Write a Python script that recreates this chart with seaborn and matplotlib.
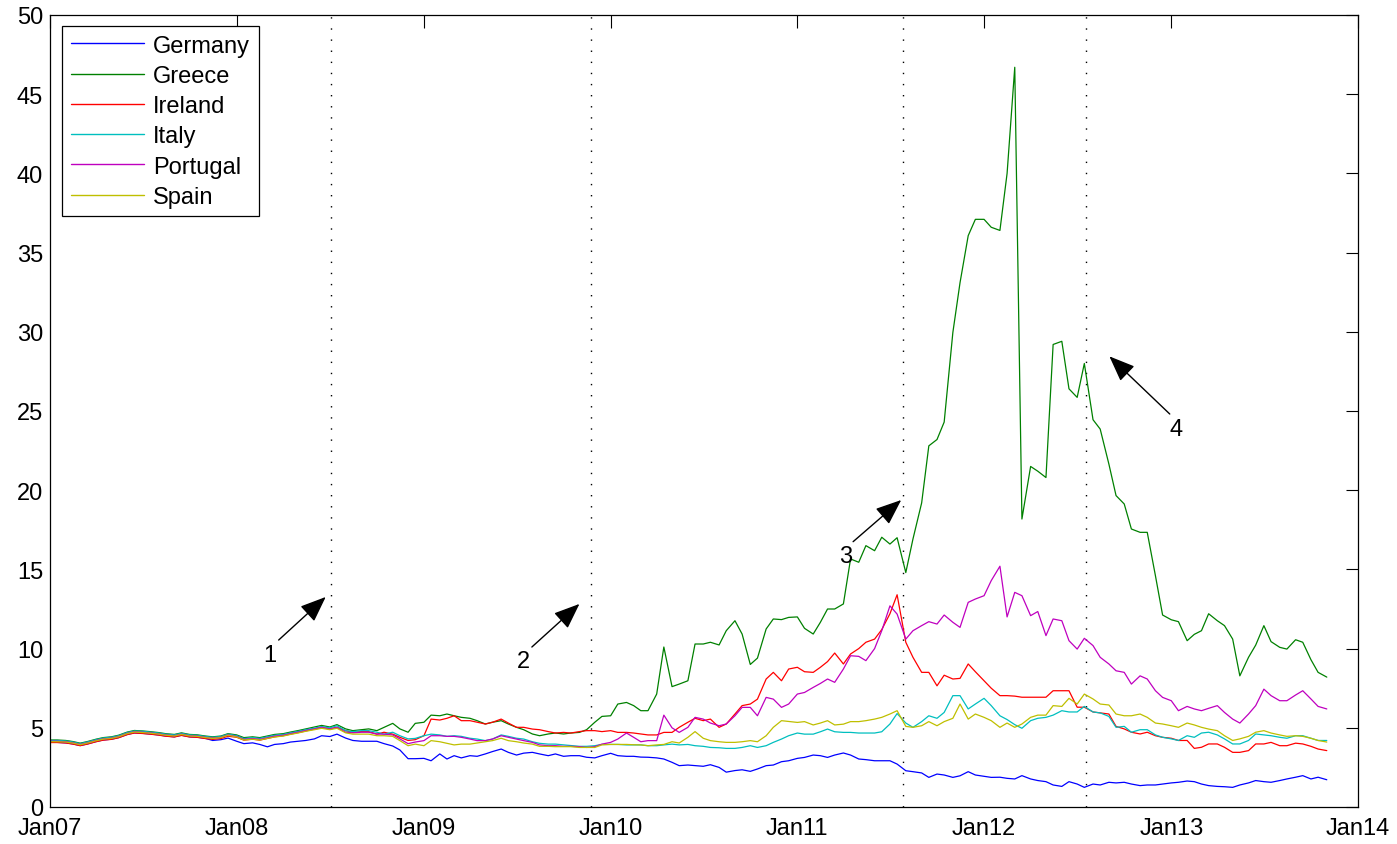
import pandas as pd
import seaborn as sns
import matplotlib.pyplot as plt
import matplotlib.dates as mdates

# semi-monthly observations, Jan 2007 - Nov 2013
dates = pd.date_range('2007-01-01', periods=165, freq='SMS')

germany = [
    4.08, 4.08, 4.05, 3.98, 3.88, 3.98, 4.13, 4.23, 4.28, 4.38, 4.58, 4.68, 4.65, 4.61, 4.55, 4.48, 4.43, 4.53, 4.43, 4.41, 4.33, 4.2, 4.25, 4.35,
    4.15, 4.0, 4.05, 3.95, 3.8, 3.95, 4.0, 4.1, 4.15, 4.2, 4.3, 4.5, 4.45, 4.6, 4.35, 4.2, 4.15, 4.15, 4.15, 4.0, 3.85, 3.6, 3.05, 3.05,
    3.07, 2.92, 3.35, 3.03, 3.24, 3.1, 3.24, 3.2, 3.35, 3.5, 3.66, 3.45, 3.28, 3.4, 3.45, 3.35, 3.24, 3.35, 3.2, 3.24, 3.24, 3.14, 3.1, 3.24,
    3.39, 3.24, 3.2, 3.2, 3.15, 3.14, 3.1, 3.03, 2.82, 2.61, 2.65, 2.61, 2.57, 2.67, 2.5, 2.2, 2.3, 2.35, 2.25, 2.4, 2.61, 2.65, 2.86, 2.92,
    3.07, 3.13, 3.28, 3.24, 3.13, 3.28, 3.41, 3.28, 3.03, 2.99, 2.92, 2.92, 2.92, 2.71, 2.29, 2.23, 2.15, 1.87, 2.08, 2.02, 1.87, 1.97, 2.23, 2.02,
    1.94, 1.87, 1.88, 1.81, 1.77, 1.98, 1.77, 1.67, 1.6, 1.39, 1.3, 1.6, 1.45, 1.24, 1.45, 1.39, 1.56, 1.52, 1.56, 1.45, 1.35, 1.39, 1.39, 1.45,
    1.52, 1.56, 1.64, 1.6, 1.45, 1.35, 1.3, 1.28, 1.24, 1.39, 1.52, 1.67, 1.6, 1.56, 1.67, 1.77, 1.88, 1.98, 1.77, 1.88, 1.72]

greece = [
    4.23, 4.23, 4.2, 4.13, 4.03, 4.13, 4.28, 4.38, 4.43, 4.53, 4.73, 4.83, 4.8, 4.76, 4.7, 4.63, 4.58, 4.68, 4.58, 4.56, 4.48, 4.43, 4.48, 4.63,
    4.55, 4.38, 4.43, 4.38, 4.48, 4.58, 4.63, 4.73, 4.83, 4.93, 5.05, 5.15, 5.05, 5.2, 4.93, 4.82, 4.88, 4.93, 4.82, 5.03, 5.28, 4.93, 4.72, 5.28,
    5.35, 5.8, 5.76, 5.87, 5.76, 5.66, 5.6, 5.45, 5.24, 5.35, 5.45, 5.24, 5.03, 4.88, 4.61, 4.5, 4.61, 4.67, 4.61, 4.67, 4.71, 4.88, 5.35, 5.72,
    5.76, 6.5, 6.6, 6.4, 6.08, 6.08, 7.13, 10.1, 7.6, 7.76, 7.97, 10.29, 10.29, 10.4, 10.23, 11.13, 11.76, 10.92, 9.0, 9.4, 11.24, 11.87, 11.83, 11.97,
    12.0, 11.28, 10.92, 11.66, 12.5, 12.5, 12.82, 15.66, 15.45, 16.5, 16.18, 17.03, 16.6, 17.0, 14.8, 16.92, 19.2, 22.8, 23.2, 24.3, 29.96, 33.1, 36.07, 37.1,
    37.1, 36.6, 36.4, 40.0, 46.7, 18.18, 21.5, 21.2, 20.8, 29.2, 29.4, 26.4, 25.86, 28.0, 24.45, 23.86, 21.65, 19.66, 19.13, 17.55, 17.34, 17.34, 14.6, 12.12,
    11.82, 11.7, 10.5, 10.9, 11.13, 12.2, 11.76, 11.45, 10.6, 8.28, 9.45, 10.22, 11.45, 10.44, 10.08, 9.97, 10.56, 10.4, 9.3, 8.5, 8.2]

ireland = [
    4.07, 4.07, 4.04, 3.97, 3.87, 3.97, 4.12, 4.22, 4.27, 4.37, 4.57, 4.67, 4.64, 4.6, 4.54, 4.47, 4.42, 4.52, 4.42, 4.4, 4.32, 4.27, 4.32, 4.47,
    4.4, 4.22, 4.28, 4.22, 4.33, 4.43, 4.5, 4.6, 4.7, 4.8, 4.92, 5.0, 4.93, 5.03, 4.82, 4.72, 4.76, 4.76, 4.6, 4.72, 4.6, 4.4, 4.2, 4.25,
    4.5, 5.55, 5.49, 5.6, 5.76, 5.45, 5.45, 5.35, 5.24, 5.35, 5.55, 5.3, 5.03, 5.03, 4.92, 4.88, 4.76, 4.67, 4.71, 4.67, 4.76, 4.82, 4.82, 4.76,
    4.82, 4.71, 4.71, 4.67, 4.61, 4.55, 4.55, 4.71, 4.71, 5.03, 5.35, 5.6, 5.45, 5.55, 5.03, 5.24, 5.87, 6.4, 6.5, 6.81, 8.08, 8.5, 7.97, 8.71,
    8.82, 8.54, 8.5, 8.82, 9.18, 9.72, 9.03, 9.66, 10.0, 10.4, 10.6, 11.2, 12.2, 13.4, 10.4, 9.45, 8.5, 8.5, 7.65, 8.32, 8.08, 8.12, 9.03, 8.54,
    7.97, 7.5, 7.03, 7.03, 7.0, 6.93, 6.93, 6.93, 6.93, 7.34, 7.34, 7.34, 6.3, 6.3, 6.0, 5.94, 5.87, 5.09, 4.93, 4.72, 4.61, 4.72, 4.5, 4.4,
    4.34, 4.2, 4.2, 3.7, 3.77, 3.98, 3.98, 3.77, 3.45, 3.45, 3.56, 3.98, 3.98, 4.08, 3.87, 3.87, 4.03, 3.98, 3.83, 3.66, 3.56]

italy = [
    4.2, 4.2, 4.17, 4.1, 4.0, 4.1, 4.25, 4.35, 4.4, 4.5, 4.7, 4.8, 4.78, 4.73, 4.67, 4.6, 4.55, 4.65, 4.55, 4.53, 4.45, 4.4, 4.45, 4.6,
    4.5, 4.32, 4.38, 4.33, 4.43, 4.53, 4.58, 4.68, 4.78, 4.88, 4.98, 5.08, 5.0, 5.13, 4.82, 4.76, 4.82, 4.82, 4.72, 4.6, 4.72, 4.5, 4.3, 4.33,
    4.5, 4.6, 4.55, 4.46, 4.5, 4.46, 4.34, 4.29, 4.19, 4.29, 4.55, 4.46, 4.34, 4.29, 4.12, 4.02, 3.97, 3.97, 3.92, 3.87, 3.83, 3.83, 3.87, 3.95,
    3.95, 3.95, 3.92, 3.92, 3.92, 3.87, 3.87, 3.92, 3.97, 3.92, 3.95, 3.87, 3.83, 3.76, 3.74, 3.7, 3.7, 3.76, 3.87, 3.76, 3.87, 4.08, 4.29, 4.5,
    4.67, 4.6, 4.6, 4.75, 4.92, 4.75, 4.71, 4.71, 4.67, 4.67, 4.67, 4.75, 5.24, 5.9, 5.3, 5.03, 5.39, 5.76, 5.6, 5.97, 7.03, 7.03, 6.19, 6.5,
    6.86, 6.4, 5.76, 5.52, 5.2, 4.97, 5.45, 5.6, 5.66, 5.8, 6.08, 6.0, 6.0, 6.35, 6.0, 5.94, 5.72, 5.03, 5.09, 4.72, 4.88, 4.88, 4.55, 4.4,
    4.3, 4.2, 4.5, 4.4, 4.67, 4.72, 4.55, 4.3, 3.98, 3.98, 4.2, 4.61, 4.55, 4.5, 4.4, 4.34, 4.5, 4.5, 4.34, 4.2, 4.2]

portugal = [
    4.15, 4.15, 4.12, 4.05, 3.95, 4.05, 4.2, 4.3, 4.35, 4.45, 4.65, 4.75, 4.72, 4.68, 4.62, 4.55, 4.5, 4.6, 4.5, 4.48, 4.4, 4.35, 4.4, 4.55,
    4.45, 4.27, 4.32, 4.27, 4.37, 4.47, 4.53, 4.63, 4.73, 4.83, 4.93, 5.03, 4.93, 5.03, 4.72, 4.68, 4.72, 4.72, 4.6, 4.6, 4.55, 4.3, 4.0, 4.1,
    4.19, 4.5, 4.5, 4.46, 4.46, 4.4, 4.29, 4.19, 4.19, 4.29, 4.5, 4.4, 4.29, 4.19, 4.08, 3.92, 3.87, 3.87, 3.83, 3.83, 3.81, 3.76, 3.81, 3.97,
    4.08, 4.29, 4.67, 4.4, 4.12, 4.19, 4.19, 5.8, 5.0, 4.71, 5.03, 5.66, 5.55, 5.3, 5.13, 5.24, 5.76, 6.29, 6.29, 5.76, 6.92, 6.81, 6.29, 6.5,
    7.13, 7.23, 7.55, 7.8, 8.08, 7.87, 8.71, 9.55, 9.51, 9.24, 10.0, 11.13, 12.7, 12.18, 10.6, 11.13, 11.45, 11.7, 11.55, 12.12, 11.66, 11.34, 12.92, 13.13,
    13.34, 14.29, 15.2, 12.0, 13.55, 13.34, 12.08, 12.34, 10.82, 11.87, 11.76, 10.5, 9.97, 10.65, 10.19, 9.45, 9.03, 8.6, 8.5, 7.76, 8.28, 8.08, 7.34, 6.92,
    6.71, 6.08, 6.35, 6.19, 6.08, 6.23, 6.4, 5.97, 5.55, 5.3, 5.87, 6.4, 7.44, 7.03, 6.71, 6.71, 7.07, 7.34, 6.82, 6.35, 6.19]

spain = [
    4.12, 4.12, 4.1, 4.03, 3.93, 4.03, 4.18, 4.28, 4.33, 4.43, 4.63, 4.73, 4.7, 4.66, 4.6, 4.53, 4.48, 4.58, 4.48, 4.46, 4.38, 4.33, 4.38, 4.53,
    4.42, 4.23, 4.28, 4.23, 4.33, 4.42, 4.48, 4.58, 4.68, 4.78, 4.88, 4.97, 4.88, 4.97, 4.68, 4.6, 4.6, 4.6, 4.5, 4.5, 4.46, 4.19, 3.87, 3.97,
    3.87, 4.19, 4.12, 4.02, 3.92, 3.97, 3.97, 4.04, 4.12, 4.19, 4.34, 4.19, 4.12, 4.04, 3.97, 3.83, 3.83, 3.81, 3.81, 3.81, 3.76, 3.76, 3.76, 3.92,
    3.95, 3.95, 3.95, 3.93, 3.92, 3.87, 3.92, 3.95, 4.12, 4.04, 4.4, 4.76, 4.34, 4.19, 4.12, 4.08, 4.08, 4.12, 4.19, 4.12, 4.5, 5.03, 5.45, 5.4,
    5.34, 5.39, 5.18, 5.3, 5.45, 5.18, 5.23, 5.39, 5.39, 5.45, 5.55, 5.66, 5.87, 6.08, 5.09, 5.03, 5.13, 5.39, 5.13, 5.39, 5.6, 6.5, 5.55, 5.87,
    5.66, 5.45, 5.03, 5.3, 5.03, 5.24, 5.66, 5.8, 5.8, 6.4, 6.35, 6.86, 6.5, 7.13, 6.82, 6.5, 6.44, 5.87, 5.76, 5.76, 5.87, 5.66, 5.3, 5.24,
    5.13, 5.03, 5.3, 5.18, 5.03, 4.92, 4.82, 4.5, 4.2, 4.3, 4.46, 4.72, 4.82, 4.67, 4.55, 4.46, 4.5, 4.46, 4.34, 4.2, 4.1]

countries = ['Germany', 'Greece', 'Ireland', 'Italy', 'Portugal', 'Spain']
colors = ['#0000ff', '#008000', '#ff0000', '#00bfbf', '#bf00bf', '#bfbf00']
event_dates = ['2008-07-03', '2009-11-23', '2011-07-26', '2012-07-18']
event_labels = ['1', '2', '3', '4']

df = pd.DataFrame({'Date': dates, 'Germany': germany, 'Greece': greece, 'Ireland': ireland,
                   'Italy': italy, 'Portugal': portugal, 'Spain': spain})
long = df.melt(id_vars='Date', var_name='Country', value_name='Yield')

sns.set_style('white')
plt.rcParams['font.family'] = ['Liberation Sans', 'DejaVu Sans']
plt.rcParams['text.color'] = 'k'

fig = plt.figure(figsize=(13.97, 8.45), dpi=100)
ax = fig.add_axes([50 / 1397, 1 - 808 / 845, 1308 / 1397, 792 / 845])

sns.lineplot(data=long, x='Date', y='Yield', hue='Country', hue_order=countries,
             palette=dict(zip(countries, colors)), linewidth=0.9, errorbar=None, ax=ax)

for d in event_dates:
    ax.axvline(pd.Timestamp(d), color='k', linestyle=(0, (1, 7)), linewidth=1, zorder=0)

# arrows: (tail date, tail y, head date, head y, label date, label y)
arrows = [('2008-03-23', 10.54, '2008-06-23', 13.26, '2008-03-05', 9.6),
          ('2009-07-31', 10.10, '2009-11-01', 12.82, '2009-07-15', 9.2),
          ('2011-04-20', 16.75, '2011-07-23', 19.38, '2011-04-05', 15.85),
          ('2012-12-29', 24.81, '2012-09-02', 28.45, '2013-01-11', 23.85)]
for (td, ty, hd, hy, ld, ly), lab in zip(arrows, event_labels):
    ax.annotate('', xy=(mdates.date2num(pd.Timestamp(hd)), hy),
                xytext=(mdates.date2num(pd.Timestamp(td)), ty),
                arrowprops=dict(arrowstyle='-|>,head_length=1.0,head_width=0.4',
                                mutation_scale=16, color='k', lw=1, shrinkA=0, shrinkB=0))
    ax.text(mdates.date2num(pd.Timestamp(ld)), ly, lab, fontsize=17, color='k',
            ha='center', va='center')

ax.set_xlim(pd.Timestamp('2007-01-01'), pd.Timestamp('2014-01-01'))
ax.set_ylim(0, 50)
ax.set_yticks(range(0, 51, 5))
ax.xaxis.set_major_locator(mdates.YearLocator())
ax.xaxis.set_major_formatter(mdates.DateFormatter('%b%y'))
ax.set_xlabel('')
ax.set_ylabel('')
ax.tick_params(direction='in', length=9, width=0.8, top=True, right=True,
               labelsize=17, colors='k')
ax.tick_params(axis='x', pad=7)
ax.tick_params(axis='y', pad=5)
for s in ax.spines.values():
    s.set_color('k')
    s.set_linewidth(0.9)

handles, labels = ax.get_legend_handles_labels()
leg = ax.legend(handles, labels, loc='upper left', bbox_to_anchor=(12 / 1308, 1 - 11 / 792),
                borderaxespad=0, fancybox=False, edgecolor='k', framealpha=1, fontsize=17,
                labelcolor='k', handlelength=3.1, labelspacing=0.35, borderpad=0.36,
                handletextpad=0.4)
leg.get_frame().set_linewidth(0.9)
for h in leg.get_lines():
    h.set_linewidth(1)

fig.savefig('out.png', dpi=100)
